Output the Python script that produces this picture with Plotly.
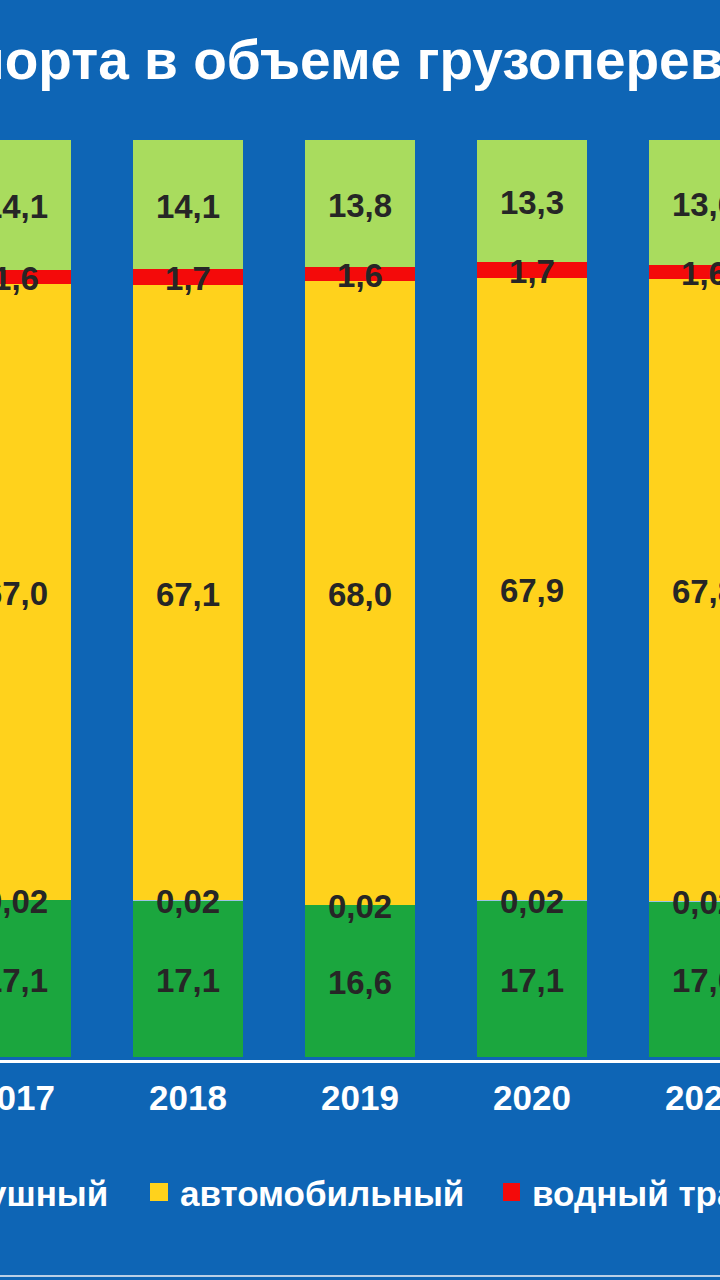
import plotly.graph_objects as go

# ---------------- data ----------------
years = [2017, 2018, 2019, 2020, 2021]
year_labels = ["2017", "2018", "2019", "2020", "2021"]
rail = [17.1, 17.1, 16.6, 17.1, 17.0]        # железнодорожный
air = [0.02, 0.02, 0.02, 0.02, 0.02]         # воздушный
auto = [67.0, 67.1, 68.0, 67.9, 67.8]        # автомобильный
water = [1.6, 1.7, 1.6, 1.7, 1.6]            # водный транспорт
pipe = [14.1, 14.1, 13.8, 13.3, 13.6]        # трубопроводный
series_names = ["железнодорожный", "воздушный", "автомобильный",
                "водный транспорт", "трубопроводный"]
title_text = "Доля видов транспорта в объеме грузоперевозок, %"

# ---------------- style ----------------
W, H = 720, 1280
BG = "#0e65b5"
COLORS = ["#1ba63e", "#9dc3e6", "#ffd21c", "#f40a0a", "#a9dc5e"]
FONT = "Liberation Sans, Arial, sans-serif"
LABEL_COLOR = "#262626"

M_T, M_B = 140, 220
plot_h = H - M_T - M_B
Y_LO, Y_HI = -0.33, 100.0
PX_PER_UNIT = plot_h / (Y_HI - Y_LO)
LABEL_DROP_PX = 5  # labels sit slightly below the exact segment centre


def fmt(v, nd=1):
    return f"{v:.{nd}f}".replace(".", ",")


def px_x(x):
    return x / W


def px_y(y):
    # pixel row (from top) -> paper y
    return (H - M_B - y) / plot_h


series = [rail, air, auto, water, pipe]
decimals = [1, 2, 1, 1, 1]

fig = go.Figure()
# stacked bars (normalised to 100 % by barnorm)
for name, vals, col in zip(series_names, series, COLORS):
    fig.add_trace(go.Bar(
        x=years, y=vals, name=name, width=0.64,
        marker=dict(color=col, line=dict(width=0)),
        showlegend=False, hoverinfo="name+y",
    ))

# value labels drawn on top of all bars, at the centre of each segment
totals = [sum(s[i] for s in series) for i in range(len(years))]
cum = [0.0] * len(years)
for name, vals, nd in zip(series_names, series, decimals):
    centres = []
    for i, v in enumerate(vals):
        share = v / totals[i] * 100.0
        centres.append(cum[i] + share / 2.0 - LABEL_DROP_PX / PX_PER_UNIT)
        cum[i] += share
    fig.add_trace(go.Scatter(
        x=years, y=centres, mode="text",
        text=[fmt(v, nd) for v in vals],
        textposition="middle center",
        textfont=dict(family=FONT, size=33, color=LABEL_COLOR, weight="bold"),
        showlegend=False, hoverinfo="skip", cliponaxis=True,
    ))

pitch = 172.0
c0 = 16.0
x_lo = years[0] - c0 / pitch
x_hi = years[0] + (W - c0) / pitch

annotations = [
    dict(text=title_text, xref="paper", yref="paper", x=px_x(-525), y=px_y(60),
         xanchor="left", yanchor="middle", showarrow=False,
         font=dict(family=FONT, size=55, color="white", weight="bold")),
    # legend texts
    dict(text=series_names[1], xref="paper", yref="paper", x=px_x(110), y=px_y(1193),
         xanchor="right", yanchor="middle", showarrow=False,
         font=dict(family=FONT, size=35, color="white", weight="bold")),
    dict(text=series_names[2], xref="paper", yref="paper", x=px_x(178), y=px_y(1193),
         xanchor="left", yanchor="middle", showarrow=False,
         font=dict(family=FONT, size=35, color="white", weight="bold")),
    dict(text=series_names[3], xref="paper", yref="paper", x=px_x(530), y=px_y(1193),
         xanchor="left", yanchor="middle", showarrow=False,
         font=dict(family=FONT, size=35, color="white", weight="bold")),
]

shapes = [
    dict(type="rect", xref="paper", yref="paper",
         x0=px_x(150), x1=px_x(168), y0=px_y(1201), y1=px_y(1183),
         fillcolor=COLORS[2], line=dict(width=0)),
    dict(type="rect", xref="paper", yref="paper",
         x0=px_x(503), x1=px_x(520), y0=px_y(1201), y1=px_y(1183),
         fillcolor=COLORS[3], line=dict(width=0)),
    dict(type="line", xref="paper", yref="paper",
         x0=0, x1=1, y0=px_y(1276), y1=px_y(1276),
         line=dict(color="#b9cfe6", width=2)),
]

fig.update_layout(
    width=W, height=H,
    margin=dict(l=0, r=0, t=M_T, b=M_B, pad=0, autoexpand=False),
    paper_bgcolor=BG, plot_bgcolor=BG,
    barmode="stack", barnorm="percent",
    showlegend=False,
    annotations=annotations, shapes=shapes,
    xaxis=dict(range=[x_lo, x_hi], tickvals=years, ticktext=year_labels,
               showgrid=False, zeroline=False, showline=True,
               linecolor="white", linewidth=3, ticks="",
               ticklabelstandoff=5, ticklabeloverflow="allow",
               automargin=False,
               tickfont=dict(family=FONT, size=35, color="white", weight="bold"),
               fixedrange=True),
    yaxis=dict(range=[Y_LO, Y_HI], visible=False, showgrid=False,
               zeroline=False, fixedrange=True, automargin=False),
)

fig.write_html("out.html", config={"displayModeBar": False, "responsive": False})

# remove the default page margin so the chart fills the window exactly
with open("out.html", "r", encoding="utf-8") as f:
    html = f.read()
html = html.replace(
    "<head>",
    "<head><style>html,body{margin:0;padding:0;overflow:hidden;background:%s;}</style>" % BG,
    1,
)
with open("out.html", "w", encoding="utf-8") as f:
    f.write(html)
